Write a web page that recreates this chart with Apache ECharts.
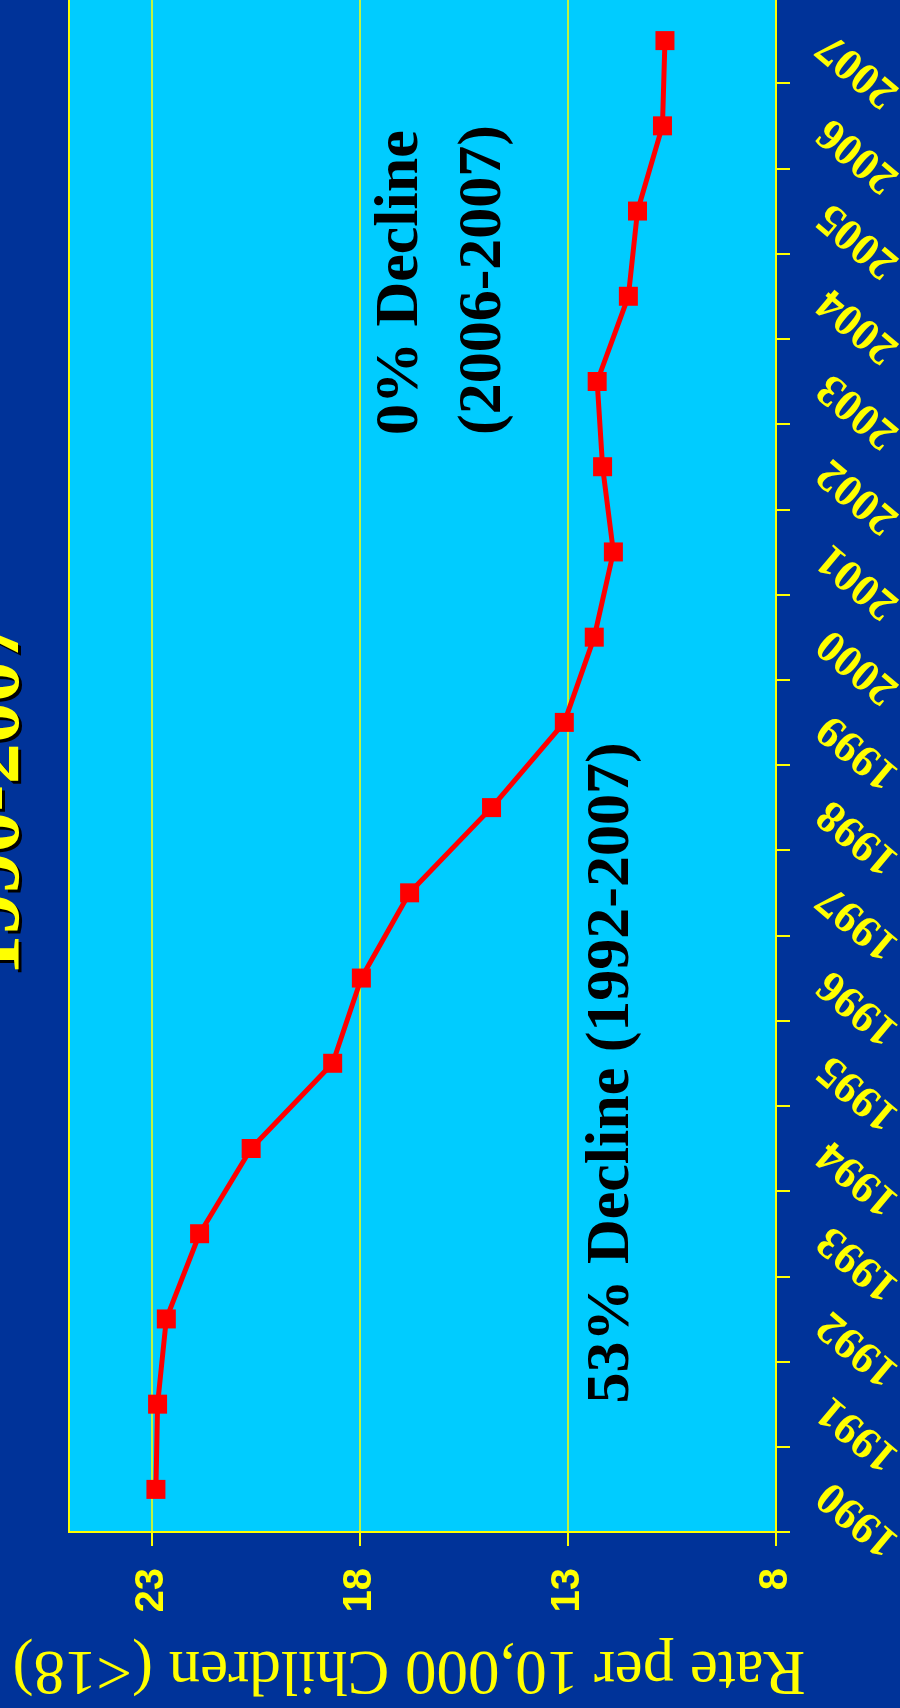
<!DOCTYPE html>
<html>
<head>
<meta charset="utf-8">
<script src="https://cdn.jsdelivr.net/npm/echarts@6/dist/echarts.min.js"></script>
<style>
html,body{margin:0;padding:0;background:#003399;}
#chart{width:900px;height:1708px;}
</style>
</head>
<body>
<div id="chart"></div>
<script>
// Data
var years = ['1990','1991','1992','1993','1994','1995','1996','1997','1998','1999','2000','2001','2002','2003','2004','2005','2006','2007'];
var rates = [22.91, 22.87, 22.66, 21.86, 20.62, 18.66, 17.97, 16.81, 14.84, 13.09, 12.37, 11.91, 12.17, 12.30, 11.55, 11.33, 10.73, 10.67];
var valueTicks = [8, 13, 18, 23];
var axisName = 'Rate per 10,000 Children (<18)';
var titleText = '1990-2007';
var noteTop1 = '0% Decline';
var noteTop2 = '(2006-2007)';
var noteBottom = '53% Decline (1992-2007)';

var YELLOW = '#FFFF00';
var chart = echarts.init(document.getElementById('chart'), null, {renderer: 'canvas'});

var seriesData = years.map(function (y, i) { return [rates[i], y]; });

var option = {
  backgroundColor: '#003399',
  animation: false,
  grid: {
    left: 69, right: 124, top: -2, bottom: 176,
    containLabel: false,
    outerBoundsMode: 'none',
    show: true, backgroundColor: '#00CCFF',
    borderColor: YELLOW, borderWidth: 2
  },
  xAxis: {
    type: 'value',
    min: 8, max: 25, interval: 5,
    inverse: true,
    position: 'bottom',
    axisLine: {show: true, lineStyle: {color: YELLOW, width: 2}},
    axisTick: {show: true, customValues: valueTicks, length: 14, inside: false, lineStyle: {color: YELLOW, width: 2}},
    axisLabel: {
      customValues: valueTicks,
      rotate: 90, margin: 36,
      color: YELLOW, fontFamily: '"Liberation Sans", Arial, sans-serif',
      fontWeight: 'bold', fontSize: 40
    },
    splitLine: {show: true, lineStyle: {color: YELLOW, width: 1.5}}
  },
  yAxis: {
    type: 'category',
    data: years,
    position: 'right',
    boundaryGap: true,
    axisLine: {show: true, lineStyle: {color: YELLOW, width: 2}},
    axisTick: {show: true, length: 14, inside: false, lineStyle: {color: YELLOW, width: 2}},
    axisLabel: {
      rotate: 140, margin: 48, interval: 0,
      color: YELLOW, fontFamily: '"Liberation Serif", "Times New Roman", serif',
      fontWeight: 'bold', fontSize: 45
    },
    splitLine: {show: false}
  },
  series: [{
    type: 'line',
    data: seriesData,
    symbol: 'rect',
    symbolSize: 19,
    lineStyle: {color: '#FF0000', width: 5},
    itemStyle: {color: '#FF0000'},
    z: 5
  }],
  graphic: [
    {
      type: 'text', x: 0, y: 801, rotation: Math.PI / 2, z: 10,
      style: {text: titleText, fill: '#000000', font: 'bold 82px "Liberation Serif", "Times New Roman", serif',
        textAlign: 'center', textVerticalAlign: 'middle', align: 'center', verticalAlign: 'middle'}
    },
    {
      type: 'text', x: -3, y: 798, rotation: Math.PI / 2, z: 11,
      style: {text: titleText, fill: YELLOW, font: 'bold 82px "Liberation Serif", "Times New Roman", serif',
        textAlign: 'center', textVerticalAlign: 'middle', align: 'center', verticalAlign: 'middle'}
    },
    {
      type: 'text', x: 409, y: 1669, rotation: Math.PI, z: 10,
      style: {text: axisName, fill: YELLOW, font: '63px "Liberation Serif", "Times New Roman", serif',
        textAlign: 'center', textVerticalAlign: 'middle', align: 'center', verticalAlign: 'middle'}
    },
    {
      type: 'text', x: 401, y: 435, rotation: Math.PI / 2, z: 10,
      style: {text: noteTop1, fill: '#000000', font: 'bold 62px "Liberation Serif", "Times New Roman", serif',
        textAlign: 'left', textVerticalAlign: 'middle', align: 'left', verticalAlign: 'middle'}
    },
    {
      type: 'text', x: 484, y: 435, rotation: Math.PI / 2, z: 10,
      style: {text: noteTop2, fill: '#000000', font: 'bold 62px "Liberation Serif", "Times New Roman", serif',
        textAlign: 'left', textVerticalAlign: 'middle', align: 'left', verticalAlign: 'middle'}
    },
    {
      type: 'text', x: 612, y: 1073, rotation: Math.PI / 2, z: 10,
      style: {text: noteBottom, fill: '#000000', font: 'bold 62px "Liberation Serif", "Times New Roman", serif',
        textAlign: 'center', textVerticalAlign: 'middle', align: 'center', verticalAlign: 'middle'}
    }
  ]
};
chart.setOption(option);
</script>
</body>
</html>
